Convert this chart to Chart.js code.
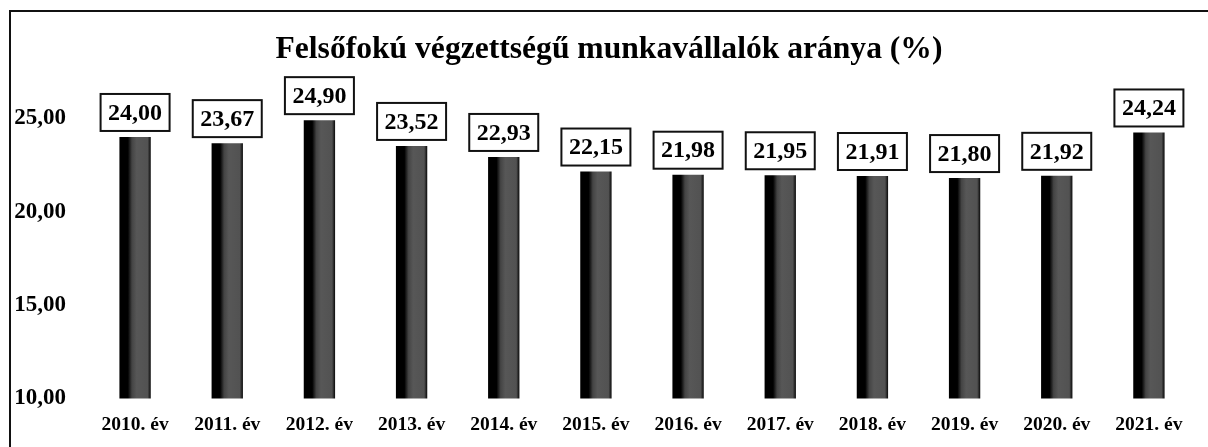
<!DOCTYPE html>
<html><head><meta charset="utf-8">
<script src="https://cdn.jsdelivr.net/npm/chart.js@4.4.1/dist/chart.umd.min.js"></script>
<style>
html,body{margin:0;padding:0;background:#fff;}
#wrap{position:relative;width:1208px;height:447px;overflow:hidden;}
canvas{position:absolute;left:0;top:0;}
</style></head><body>
<div id="wrap"><canvas id="c" width="1208" height="447"></canvas></div>
<script>
const chartTitle = 'Felsőfokú végzettségű munkavállalók aránya (%)';
const categories = ['2010. év','2011. év','2012. év','2013. év','2014. év','2015. év','2016. év','2017. év','2018. év','2019. év','2020. év','2021. év'];
const values = [24.00, 23.67, 24.90, 23.52, 22.93, 22.15, 21.98, 21.95, 21.91, 21.80, 21.92, 24.24];
const yTicks = [10, 15, 20, 25];
const yMin = 10, yMax = 27;

const FONT = '"Liberation Serif", "Times New Roman", serif';
const BAR_PCT = 0.34;
const fmt = v => v.toFixed(2).replace('.', ',');

function barFill(ctx) {
  const chart = ctx.chart, xs = chart.scales && chart.scales.x;
  if (!xs || ctx.dataIndex == null) return '#222';
  const cx = xs.getPixelForValue(ctx.dataIndex);
  const w = xs.width / categories.length * BAR_PCT;
  if (!isFinite(cx) || !isFinite(w) || w <= 0) return '#222';
  const g = chart.ctx.createLinearGradient(cx - w / 2, 0, cx + w / 2, 0);
  g.addColorStop(0, '#000');
  g.addColorStop(0.27, '#000');
  g.addColorStop(0.40, '#444');
  g.addColorStop(0.55, '#575757');
  g.addColorStop(0.90, '#525252');
  g.addColorStop(1, '#080808');
  return g;
}

const frame = {
  id: 'frame',
  beforeDraw(chart) {
    const c = chart.ctx;
    c.save();
    c.strokeStyle = '#111';
    c.lineWidth = 2;
    c.beginPath();
    c.moveTo(10, chart.height);
    c.lineTo(10, 11);
    c.lineTo(chart.width, 11);
    c.stroke();
    c.restore();
  }
};

const boxLabels = {
  id: 'boxLabels',
  afterDatasetsDraw(chart) {
    const c = chart.ctx, meta = chart.getDatasetMeta(0);
    c.save();
    c.font = 'bold 24px ' + FONT;
    c.textAlign = 'center';
    c.textBaseline = 'middle';
    meta.data.forEach((bar, i) => {
      const txt = fmt(values[i]);
      const tw = c.measureText(txt).width;
      const w = tw + 15, h = 37;
      const x = bar.x - w / 2, y = bar.y - 6 - h;
      c.fillStyle = '#fff';
      c.fillRect(x, y, w, h);
      c.lineWidth = 2;
      c.strokeStyle = '#111';
      c.strokeRect(x, y, w, h);
      c.fillStyle = '#000';
      c.fillText(txt, bar.x, y + h / 2 + 1);
    });
    c.restore();
  }
};

new Chart(document.getElementById('c'), {
  type: 'bar',
  data: {
    labels: categories,
    datasets: [{
      data: values,
      backgroundColor: barFill,
      borderWidth: 0,
      barPercentage: BAR_PCT,
      categoryPercentage: 1
    }]
  },
  options: {
    responsive: false,
    animation: false,
    events: [],
    layout: { padding: { left: 10, right: 0, top: 0, bottom: 0 } },
    plugins: {
      legend: { display: false },
      tooltip: { enabled: false },
      title: {
        display: true,
        text: chartTitle,
        color: '#000',
        font: { family: FONT, size: 31.6, weight: 'bold' },
        padding: { top: 31, bottom: 12 }
      }
    },
    scales: {
      x: {
        grid: { display: false, drawTicks: false },
        border: { display: false },
        ticks: {
          color: '#000',
          font: { family: FONT, size: 19.5, weight: 'bold' },
          padding: 15,
          autoSkip: false,
          maxRotation: 0
        },
        afterFit: s => { s.height = 48.5; }
      },
      y: {
        min: yMin,
        max: yMax,
        grid: { display: false, drawTicks: false },
        border: { display: false },
        ticks: {
          color: '#000',
          font: { family: FONT, size: 23, weight: 'bold' },
          padding: 23,
          callback: v => fmt(v)
        },
        afterBuildTicks: s => { s.ticks = yTicks.map(v => ({ value: v })); },
        afterFit: s => { s.width = 79; }
      },
      yRight: {
        position: 'right',
        min: yMin,
        max: yMax,
        grid: { display: false, drawTicks: false },
        border: { display: false },
        ticks: { display: false },
        afterFit: s => { s.width = 13; }
      }
    }
  },
  plugins: [frame, boxLabels]
});
</script>
</body></html>
